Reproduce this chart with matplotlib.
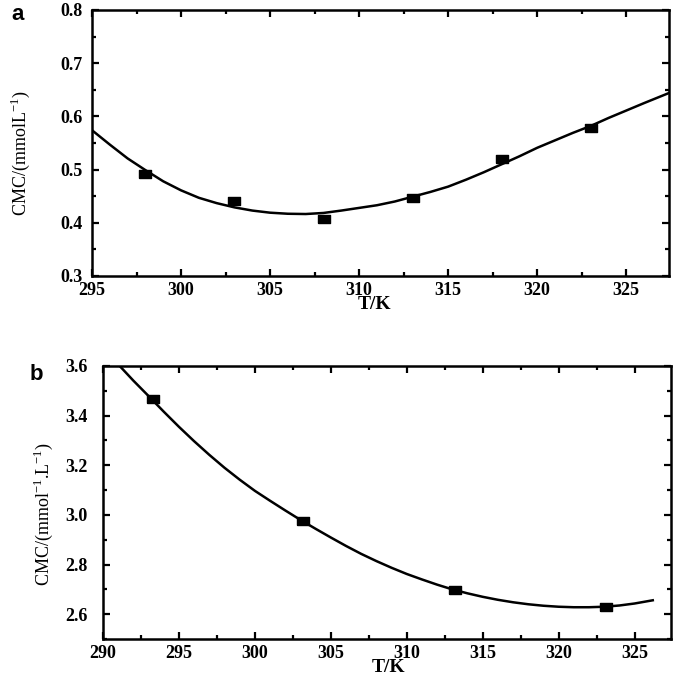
import matplotlib
matplotlib.use("Agg")
import matplotlib.pyplot as plt
from matplotlib.ticker import MultipleLocator, FormatStrFormatter

# ---- Panel a data ----
a_T = [298, 303, 308, 313, 318, 323]
a_cmc = [0.492, 0.441, 0.408, 0.446, 0.519, 0.579]
a_fit_T = [295, 296, 297, 298, 299, 300, 301, 302, 303, 304, 305, 306, 307,
           308, 309, 310, 311, 312, 313, 314, 315, 316, 317, 318, 319, 320,
           321, 322, 323, 324, 325, 326, 327.4]
a_fit_cmc = [0.574, 0.547, 0.521, 0.499, 0.478, 0.461, 0.447, 0.437, 0.429,
             0.423, 0.419, 0.417, 0.4165, 0.4185, 0.423, 0.428, 0.433, 0.440,
             0.449, 0.458, 0.468, 0.481, 0.495, 0.510, 0.525, 0.541, 0.555,
             0.569, 0.582, 0.597, 0.611, 0.625, 0.644]

# ---- Panel b data ----
b_T = [293.3, 303.2, 313.2, 323.1]
b_cmc = [3.466, 2.976, 2.697, 2.629]
b_fit_T = [291.1, 292, 293, 294, 295, 296, 297, 298, 299, 300, 301, 302, 303,
           304, 305, 306, 307, 308, 309, 310, 311, 312, 313, 314, 315, 316,
           317, 318, 319, 320, 321, 322, 323, 324, 325, 326.2]
b_fit_cmc = [3.600, 3.541, 3.479, 3.416, 3.355, 3.297, 3.242, 3.190, 3.142,
             3.097, 3.057, 3.018, 2.980, 2.944, 2.909, 2.875, 2.843, 2.814,
             2.787, 2.762, 2.740, 2.719, 2.700, 2.684, 2.670, 2.658, 2.648,
             2.640, 2.634, 2.630, 2.628, 2.628, 2.630, 2.635, 2.643, 2.656]

W, H = 676, 681
fig = plt.figure(figsize=(W / 100, H / 100), dpi=100)

serif = "Liberation Serif"
rect_marker = [(-1.5, -1), (1.5, -1), (1.5, 1), (-1.5, 1), (-1.5, -1)]


def style(ax, xmaj, xmin, ymaj, ymin, yfmt, ypad):
    ax.xaxis.set_major_locator(MultipleLocator(xmaj))
    ax.xaxis.set_minor_locator(MultipleLocator(xmin))
    ax.yaxis.set_major_locator(MultipleLocator(ymaj))
    ax.yaxis.set_minor_locator(MultipleLocator(ymin))
    ax.yaxis.set_major_formatter(FormatStrFormatter(yfmt))
    ax.tick_params(which="both", direction="in", top=True, right=True,
                   width=1.6, colors="black")
    ax.tick_params(which="major", length=5, labelsize=13)
    ax.tick_params(axis="x", which="major", pad=4)
    ax.tick_params(axis="y", which="major", pad=ypad)
    ax.tick_params(which="minor", length=3)
    for lab in ax.get_xticklabels() + ax.get_yticklabels():
        lab.set_fontfamily(serif)
        lab.set_fontweight("bold")
    for sp in ax.spines.values():
        sp.set_linewidth(1.8)


def px_axes(l, t, r, b):
    return fig.add_axes([l / W, 1 - b / H, (r - l) / W, (b - t) / H])


# Panel a
axa = px_axes(92, 10, 669, 276)
axa.plot(a_fit_T, a_fit_cmc, color="black", lw=1.8, zorder=2)
axa.plot(a_T, a_cmc, linestyle="none", marker=rect_marker, markersize=8.5,
         color="black", zorder=3)
axa.set_xlim(295, 327.4)
axa.set_ylim(0.3, 0.8)
style(axa, 5, 2.5, 0.1, 0.05, "%.1f", 7)

# Panel b
axb = px_axes(103, 366, 671, 639)
axb.plot(b_fit_T, b_fit_cmc, color="black", lw=1.8, zorder=2)
axb.plot(b_T, b_cmc, linestyle="none", marker=rect_marker, markersize=8.5,
         color="black", zorder=3)
axb.set_xlim(290, 327.4)
axb.set_ylim(2.5, 3.6)
style(axb, 5, 2.5, 0.2, 0.1, "%.1f", 11)

# Labels
fig.text(374 / W, 1 - 305 / H, "T/K", ha="center", va="center",
         fontfamily=serif, fontweight="bold", fontsize=14)
fig.text(388 / W, 1 - 667 / H, "T/K", ha="center", va="center",
         fontfamily=serif, fontweight="bold", fontsize=14)
fig.text(20 / W, 1 - 153 / H, "CMC/(mmolL$^{\\mathregular{-1}}$)",
         rotation=90, ha="center", va="center", fontfamily=serif,
         fontsize=13)
fig.text(43 / W, 1 - 514 / H,
         "CMC/(mmol$^{\\mathregular{-1}}$.L$^{\\mathregular{-1}}$)",
         rotation=90, ha="center", va="center", fontfamily=serif,
         fontsize=13)
fig.text(18 / W, 1 - 14 / H, "a", ha="center", va="center",
         fontfamily="Liberation Sans", fontweight="bold", fontsize=16)
fig.text(36 / W, 1 - 375 / H, "b", ha="center", va="center",
         fontfamily="Liberation Sans", fontweight="bold", fontsize=16)

fig.savefig("out.png", dpi=100)
